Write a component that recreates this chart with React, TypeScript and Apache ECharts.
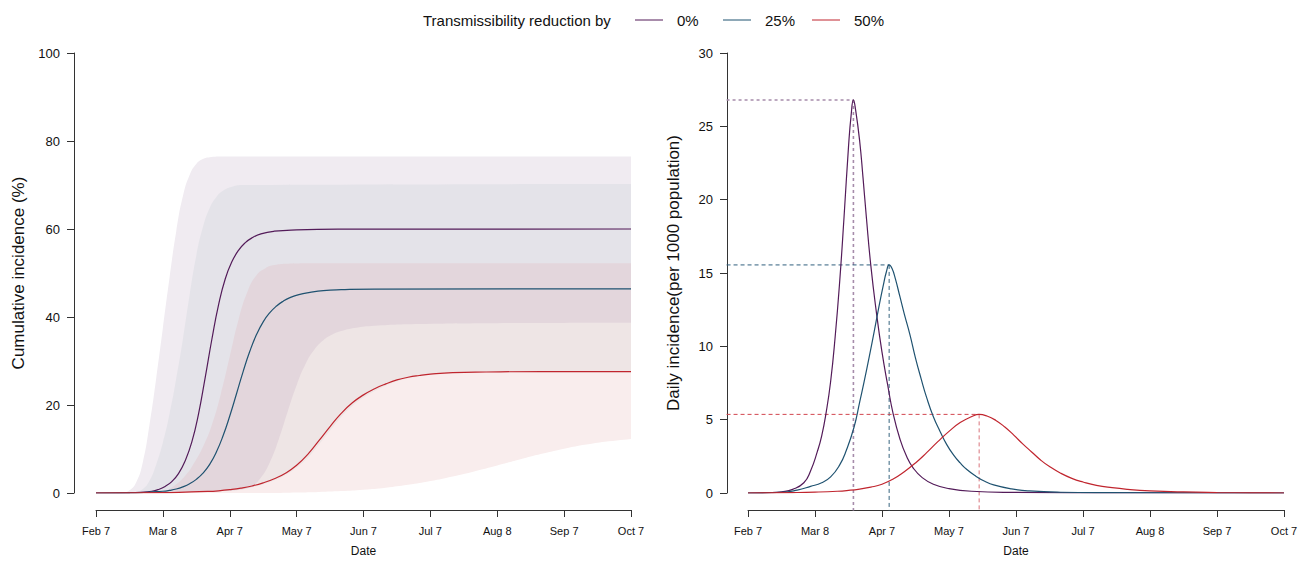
import React, { useEffect, useRef } from 'react';
import * as echarts from 'echarts';

// ---------- data (day index from Feb 7; ticks every 30 days) ----------
const tickLabels = ['Feb 7', 'Mar 8', 'Apr 7', 'May 7', 'Jun 7', 'Jul 7', 'Aug 8', 'Sep 7', 'Oct 7'];
const scenarios = ['0%', '25%', '50%'];
const lineColors = ['#531b59', '#1f5270', '#c0252e'];
const dashColors = ['#a68cab', '#2f5f7d', '#d2464f'];
const vDashColors = ['#a68cab', '#36647f', '#d9737b'];

// cumulative incidence (%) medians
const cum0 = [[0,0],[15,0.05],[20,0.15],[25,0.4],[28,0.8],[31,1.5],[34,2.6],[37,4.4],[40,7.3],[43,11.6],[46,18],[49,26.3],[52,35],[55,42.8],[58,48.7],[61,52.6],[64,55.2],[67,56.9],[70,58],[74,58.9],[80,59.5],[90,59.8],[110,59.95],[240,60]];
const cum25 = [[0,0],[20,0.1],[25,0.25],[30,0.4],[33,0.6],[36,0.9],[39,1.4],[42,2.1],[45,3.1],[48,4.5],[51,6.5],[54,9.3],[57,13],[60,17.5],[63,22.5],[66,27.6],[69,32.2],[72,36],[75,38.9],[78,41],[81,42.5],[84,43.6],[87,44.4],[91,45.1],[96,45.6],[102,46],[110,46.2],[125,46.35],[240,46.4]];
const cum50 = [[0,0],[30,0.1],[40,0.2],[50,0.35],[55,0.5],[60,0.75],[65,1.1],[70,1.6],[75,2.3],[80,3.25],[85,4.5],[90,6.3],[95,8.8],[100,11.9],[105,15.1],[110,18.1],[115,20.5],[120,22.3],[125,23.7],[130,24.8],[135,25.7],[140,26.3],[145,26.7],[150,27],[160,27.35],[175,27.5],[200,27.6],[240,27.6]];

// uncertainty band edges (%)
const upper0 = [[0,0],[9,0],[12,0.1],[15,0.6],[18,2.4],[21,7],[24,15.5],[27,26],[30,37.5],[33,49],[36,59.5],[39,67.5],[42,72.3],[45,74.8],[48,75.9],[51,76.3],[56,76.45],[65,76.5],[240,76.5]];
const upper25 = [[0,0],[12,0],[15,0.05],[18,0.2],[21,0.9],[24,2.8],[27,6.5],[30,11.5],[33,18],[36,26],[39,35],[42,45],[45,54],[48,60.5],[51,64.8],[54,67.3],[57,68.7],[61,69.6],[66,70],[240,70.2]];
const upper50 = [[0,0],[20,0],[25,0.1],[30,0.4],[35,1.6],[40,3.9],[44,6.8],[48,10.5],[52,15.5],[56,22.5],[60,31],[64,39.5],[68,45.8],[72,49.5],[76,51.1],[80,51.8],[86,52.1],[100,52.2],[240,52.2]];
const lower25 = [[0,0],[55,0],[62,0.1],[66,0.5],[70,1.5],[74,3.5],[78,7],[82,12.2],[86,18.5],[90,24.5],[94,29.3],[98,32.6],[102,34.7],[106,36],[110,36.8],[116,37.5],[125,38],[145,38.4],[180,38.6],[240,38.7]];
const lower0 = [[0,0],[50,0.3],[55,0.4],[60,0.5],[65,0.8],[70,1.3],[75,2],[80,2.9],[85,4.1],[90,5.8],[95,8],[100,11],[105,14.2],[110,17.3],[115,19.8],[120,21.7],[125,23.2],[130,24.4],[135,25.4],[140,26.1],[145,26.5],[150,26.9],[160,27.3],[175,27.5],[200,27.6],[240,27.6]];
const lower50 = [[0,0],[80,0],[90,0.1],[100,0.25],[110,0.45],[120,0.75],[130,1.2],[140,1.85],[150,2.7],[160,3.75],[170,4.95],[180,6.25],[190,7.6],[200,8.9],[210,10.05],[220,11],[230,11.75],[240,12.3]];
const bandColors = ['#f0ebf1', '#e4e3e9', '#e3d6dc', '#eee5e5', '#f9eded', '#ffffff'];

// daily incidence (per 1000 population)
const daily0 = [[0,0],[10,0.02],[15,0.08],[20,0.25],[25,0.7],[28,1.5],[31,2.8],[33,3.9],[35,5.5],[37,7.6],[39,10.6],[41,14.3],[43,18.8],[45,23.6],[46.2,25.8],[47.2,26.8],[48.2,26.1],[50,24],[51.5,21.5],[53,18.8],[55,15.5],[57.5,12.3],[60,9.6],[62.5,7.4],[65,5.4],[68,3.7],[71,2.5],[74,1.7],[78,1.05],[83,0.6],[90,0.3],[100,0.12],[120,0.04],[150,0.01],[240,0]];
const daily25 = [[0,0],[15,0.05],[22,0.2],[28,0.45],[33,0.7],[37,1.1],[41,1.9],[44,2.9],[47.5,4.5],[50,6.2],[52,7.6],[54.3,9.3],[56.5,11],[58.5,12.6],[60.5,14.1],[62,15.1],[63.2,15.55],[64.5,15.3],[66,14.6],[68,13.4],[70,12.2],[72.5,10.8],[75,9.2],[77.5,7.8],[80,6.5],[83,5.2],[86,4.2],[89,3.3],[92,2.6],[95,2.05],[98,1.6],[102,1.15],[106,0.8],[110,0.55],[118,0.28],[126,0.14],[140,0.05],[160,0.02],[240,0]];
const daily50 = [[0,0],[20,0.03],[30,0.06],[40,0.12],[45,0.18],[50,0.27],[55,0.4],[60,0.6],[65,0.95],[70,1.45],[75,2.05],[80,2.75],[85,3.5],[90,4.2],[95,4.8],[100,5.2],[103.5,5.36],[107,5.25],[111,4.95],[115,4.5],[119,3.95],[123,3.35],[127,2.8],[131,2.25],[135,1.8],[140,1.35],[145,1.0],[150,0.75],[156,0.52],[163,0.36],[170,0.25],[180,0.15],[195,0.07],[210,0.03],[225,0.01],[240,0]];

const FONT = '"Liberation Sans", Arial, Helvetica, sans-serif';
const SMOOTH = 0.5;

function legendGraphics() {
  const legendY = 20;
  const items: any[] = [
    { type: 'text', x: 423, y: legendY, style: { text: 'Transmissibility reduction by', fill: '#111', font: `15px ${FONT}`, verticalAlign: 'middle' } },
  ];
  const lineStarts = [635, 723, 812];
  scenarios.forEach((s, i) => {
    items.push({ type: 'line', shape: { x1: lineStarts[i], y1: legendY, x2: lineStarts[i] + 28, y2: legendY }, style: { stroke: lineColors[i], lineWidth: 1 } });
    items.push({ type: 'text', x: lineStarts[i] + 42, y: legendY, style: { text: s, fill: '#111', font: `15px ${FONT}`, verticalAlign: 'middle' } });
  });
  return items;
}

function buildOption() {
  const cums = [cum0, cum25, cum50];
  const dailies = [daily0, daily25, daily50];
  const bands = [upper0, upper25, upper50, lower25, lower0, lower50];

  const xAxisBase = (gridIndex: number) => ({
    type: 'value', gridIndex, min: 0, max: 240, interval: 30, offset: 17,
    axisLine: { show: true, onZero: false, lineStyle: { color: '#333', width: 1 } },
    axisTick: { show: true, length: 7, lineStyle: { color: '#333' } },
    axisLabel: { margin: 15, fontSize: 11, color: '#111', fontFamily: FONT,
      formatter: (v: number) => tickLabels[Math.round(v / 30)] ?? '' },
    splitLine: { show: false },
    name: 'Date', nameLocation: 'middle', nameGap: 35,
    nameTextStyle: { fontSize: 12, color: '#111', fontFamily: FONT },
  });
  const yAxisBase = (gridIndex: number, max: number, interval: number, name: string, offset: number, nameGap: number) => ({
    type: 'value', gridIndex, min: 0, max, interval, offset,
    axisLine: { show: true, onZero: false, lineStyle: { color: '#333', width: 1 } },
    axisTick: { show: true, length: 7, lineStyle: { color: '#333' } },
    axisLabel: { margin: 14, fontSize: 13, color: '#111', fontFamily: FONT },
    splitLine: { show: false },
    name, nameLocation: 'middle', nameGap,
    nameTextStyle: { fontSize: 17, color: '#111', fontFamily: FONT },
  });

  const series: any[] = [];
  bands.forEach((b, i) => {
    series.push({
      type: 'line', xAxisIndex: 0, yAxisIndex: 0, data: b, smooth: SMOOTH, symbol: 'none',
      lineStyle: { width: 0 }, areaStyle: { color: bandColors[i], opacity: 1 }, silent: true, z: 1 + i,
    });
  });
  cums.forEach((c, i) => {
    series.push({
      name: scenarios[i], type: 'line', xAxisIndex: 0, yAxisIndex: 0, data: c, smooth: SMOOTH, symbol: 'none',
      lineStyle: { width: 1.2, color: lineColors[i] }, z: 10,
    });
  });
  dailies.forEach((d, i) => {
    series.push({
      name: scenarios[i], type: 'line', xAxisIndex: 1, yAxisIndex: 1, data: d, smooth: SMOOTH, symbol: 'none',
      lineStyle: { width: 1.2, color: lineColors[i] }, z: 10,
    });
  });

  return {
    animation: false,
    backgroundColor: '#ffffff',
    textStyle: { fontFamily: FONT },
    grid: [
      { left: 96, top: 53, width: 535, height: 440 },
      { left: 748, top: 53, width: 536, height: 440 },
    ],
    xAxis: [xAxisBase(0), xAxisBase(1)],
    yAxis: [
      yAxisBase(0, 100, 20, 'Cumulative incidence (%)', 22, 47),
      yAxisBase(1, 30, 5, 'Daily incidence(per 1000 population)', 21, 45),
    ],
    graphic: legendGraphics(),
    series,
  };
}

// peak reference lines (dashed) for the daily panel, placed via the chart's own scales
function peakGraphics(chart: echarts.ECharts) {
  const dailies = [daily0, daily25, daily50];
  const xLo = -0.04 * 240; // R-style 4% axis extension
  const yLo = -0.04 * 30;
  const out: any[] = [];
  dailies.forEach((d, i) => {
    let pk = d[0];
    d.forEach((p) => { if (p[1] > pk[1]) pk = p; });
    const pPeak = chart.convertToPixel({ gridIndex: 1 }, [pk[0], pk[1]]) as number[];
    const pLeft = chart.convertToPixel({ gridIndex: 1 }, [xLo, pk[1]]) as number[];
    const pBottom = chart.convertToPixel({ gridIndex: 1 }, [pk[0], yLo]) as number[];
    const dash = i === 0 ? [3, 3] : [4, 3];
    const w = i === 0 ? 1.6 : 1;
    out.push({ type: 'line', z: 5, silent: true, shape: { x1: pLeft[0], y1: pPeak[1], x2: pPeak[0], y2: pPeak[1] }, style: { stroke: dashColors[i], lineWidth: w, lineDash: dash } });
    out.push({ type: 'line', z: 5, silent: true, shape: { x1: pPeak[0], y1: pPeak[1], x2: pPeak[0], y2: pBottom[1] }, style: { stroke: vDashColors[i], lineWidth: w, lineDash: dash } });
  });
  return out;
}

export default function App() {
  const ref = useRef<HTMLDivElement>(null);
  useEffect(() => {
    if (!ref.current) return;
    const chart = echarts.init(ref.current, undefined, { renderer: 'svg' });
    chart.setOption(buildOption() as any);
    chart.setOption({ graphic: [...legendGraphics(), ...peakGraphics(chart)] } as any);
    return () => chart.dispose();
  }, []);
  return <div ref={ref} style={{ position: 'fixed', left: 0, top: 0, width: 1311, height: 562, background: '#fff' }} />;
}
